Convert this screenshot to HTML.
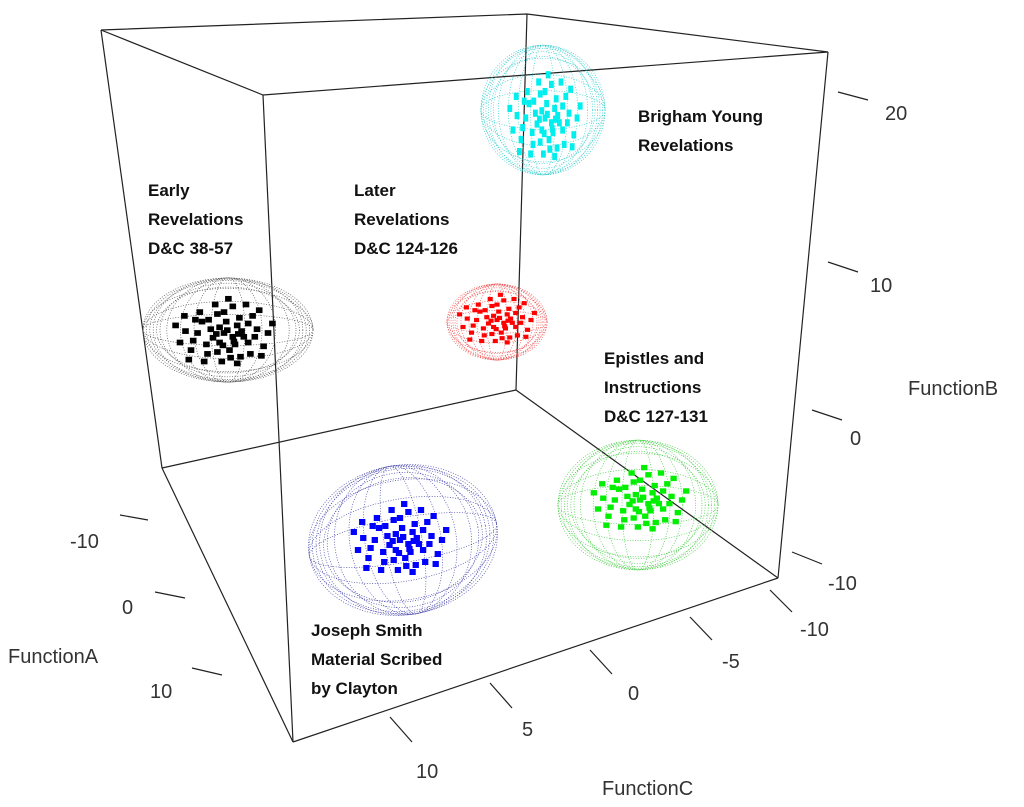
<!DOCTYPE html>
<html><head><meta charset="utf-8"><style>
html,body{margin:0;padding:0;background:#fff;}
svg{display:block;font-family:"Liberation Sans",sans-serif;}
.lb{font-weight:bold;font-size:17px;fill:#111;}
.ax{font-size:20px;fill:#333;}
</style></head><body>
<svg width="1024" height="807" viewBox="0 0 1024 807">
<defs>
<g id="m" fill="none" stroke-width="0.7" stroke-dasharray="1 1.6">
<ellipse cx="0" cy="0" rx="50" ry="40" vector-effect="non-scaling-stroke"/>
<ellipse cx="0" cy="0" rx="48" ry="39" vector-effect="non-scaling-stroke"/>
<ellipse cx="0" cy="0" rx="46" ry="38" vector-effect="non-scaling-stroke"/>
<ellipse cx="0" cy="0" rx="40" ry="36" vector-effect="non-scaling-stroke"/>
<ellipse cx="0" cy="0" rx="36" ry="40" vector-effect="non-scaling-stroke"/>
<ellipse cx="0" cy="0" rx="28" ry="40" vector-effect="non-scaling-stroke"/>
<ellipse cx="0" cy="0" rx="20" ry="40" vector-effect="non-scaling-stroke"/>
<ellipse cx="0" cy="0" rx="10" ry="40" vector-effect="non-scaling-stroke"/>
<ellipse cx="0" cy="0" rx="50" ry="32" vector-effect="non-scaling-stroke"/>
<ellipse cx="0" cy="0" rx="50" ry="22" vector-effect="non-scaling-stroke"/>
<ellipse cx="0" cy="0" rx="50" ry="12" vector-effect="non-scaling-stroke"/>
<ellipse cx="0" cy="0" rx="44" ry="40" vector-effect="non-scaling-stroke"/>
<ellipse cx="0" cy="0" rx="42" ry="33" vector-effect="non-scaling-stroke"/>
</g>
<g id="c">
<rect x="-3" y="-3" width="6" height="6"/><rect x="-13" y="2" width="6" height="6"/><rect x="9" y="-11" width="6" height="6"/><rect x="-23" y="-15" width="6" height="6"/><rect x="19" y="7" width="6" height="6"/>
<rect x="2" y="15" width="6" height="6"/><rect x="-9" y="-23" width="6" height="6"/><rect x="27" y="-7" width="6" height="6"/><rect x="-31" y="5" width="6" height="6"/><rect x="12" y="22" width="6" height="6"/>
<rect x="-18" y="19" width="6" height="6"/><rect x="5" y="-31" width="6" height="6"/><rect x="-38" y="-5" width="6" height="6"/><rect x="33" y="11" width="6" height="6"/><rect x="-7" y="7" width="6" height="6"/>
<rect x="15" y="1" width="6" height="6"/><rect x="-25" y="-25" width="6" height="6"/><rect x="23" y="-21" width="6" height="6"/><rect x="-1" y="-15" width="6" height="6"/><rect x="-15" y="-7" width="6" height="6"/>
<rect x="7" y="9" width="6" height="6"/><rect x="-33" y="15" width="6" height="6"/><rect x="29" y="-27" width="6" height="6"/><rect x="-5" y="27" width="6" height="6"/><rect x="17" y="-33" width="6" height="6"/>
<rect x="-43" y="7" width="6" height="6"/><rect x="37" y="-3" width="6" height="6"/><rect x="-21" y="27" width="6" height="6"/><rect x="1" y="-39" width="6" height="6"/><rect x="11" y="-19" width="6" height="6"/>
<rect x="-11" y="-33" width="6" height="6"/><rect x="21" y="19" width="6" height="6"/><rect x="-29" y="-17" width="6" height="6"/><rect x="3" y="23" width="6" height="6"/><rect x="-19" y="9" width="6" height="6"/>
<rect x="25" y="1" width="6" height="6"/><rect x="-39" y="-21" width="6" height="6"/><rect x="-3" y="-25" width="6" height="6"/><rect x="9" y="29" width="6" height="6"/><rect x="-27" y="-3" width="6" height="6"/>
<rect x="13" y="-5" width="6" height="6"/><rect x="-9" y="17" width="6" height="6"/><rect x="31" y="21" width="6" height="6"/><rect x="-35" y="25" width="6" height="6"/><rect x="41" y="-13" width="6" height="6"/>
<rect x="-47" y="-11" width="6" height="6"/><rect x="5" y="1" width="6" height="6"/><rect x="-17" y="-17" width="6" height="6"/><rect x="19" y="-13" width="6" height="6"/><rect x="-7" y="-9" width="6" height="6"/>
<rect x="0" y="-6" width="6" height="6"/><rect x="-10" y="-2" width="6" height="6"/><rect x="6" y="6" width="6" height="6"/><rect x="-4" y="10" width="6" height="6"/><rect x="10" y="-2" width="6" height="6"/>
</g>
</defs>
<g stroke="#222" stroke-width="1.2" fill="none">
<polyline points="101,30 527,14 828,52 263,95 101,30"/>
<line x1="101" y1="30" x2="162" y2="468"/>
<line x1="263" y1="95" x2="293" y2="742"/>
<line x1="828" y1="52" x2="778" y2="578"/>
<line x1="527" y1="14" x2="516" y2="390"/>
<line x1="516" y1="390" x2="162" y2="468"/>
<line x1="516" y1="390" x2="778" y2="578"/>
<line x1="162" y1="468" x2="293" y2="742"/>
<line x1="293" y1="742" x2="778" y2="578"/>
<line x1="838" y1="92" x2="868" y2="100"/>
<line x1="828" y1="262" x2="858" y2="272"/>
<line x1="812" y1="410" x2="842" y2="420"/>
<line x1="792" y1="552" x2="822" y2="564"/>
<line x1="770" y1="590" x2="792" y2="612"/>
<line x1="690" y1="617" x2="712" y2="640"/>
<line x1="590" y1="650" x2="612" y2="674"/>
<line x1="490" y1="683" x2="512" y2="708"/>
<line x1="390" y1="717" x2="412" y2="742"/>
<line x1="148" y1="520" x2="120" y2="515"/>
<line x1="185" y1="598" x2="155" y2="592"/>
<line x1="222" y1="675" x2="192" y2="668"/>
</g>
<g class="ax">
<text x="885" y="120">20</text><text x="870" y="292">10</text><text x="850" y="445">0</text><text x="828" y="590">-10</text>
<text x="800" y="636">-10</text><text x="722" y="668">-5</text><text x="628" y="700">0</text><text x="522" y="736">5</text><text x="416" y="778">10</text>
<text x="70" y="548">-10</text><text x="122" y="614">0</text><text x="150" y="698">10</text>
<text x="908" y="395">FunctionB</text><text x="8" y="663">FunctionA</text><text x="602" y="795">FunctionC</text>
</g>
<use href="#m" transform="translate(228,330) scale(1.7,1.3)" stroke="#555"/>
<use href="#m" transform="translate(497,322) scale(1.0,0.95)" stroke="#e55"/>
<use href="#m" transform="translate(543,110) scale(1.24,1.62)" stroke="#3cc"/>
<use href="#m" transform="translate(403,540) scale(1.9,1.87) rotate(-10)" stroke="#44a"/>
<use href="#m" transform="translate(638,505) scale(1.6,1.62)" stroke="#4c4"/>
<use href="#c" transform="translate(224,333) scale(1.1,0.95)" fill="#000"/>
<use href="#c" transform="translate(497,320) scale(0.85,0.7)" fill="#f00"/>
<use href="#c" transform="translate(545,118) scale(0.8,1.2)" fill="#0ee"/>
<use href="#c" transform="translate(400,540) scale(1.05,1.0)" fill="#00f"/>
<use href="#c" transform="translate(640,500) scale(1.05,0.9)" fill="#0e0"/>
<g class="lb">
<text x="638" y="122">Brigham  Young</text><text x="638" y="151">Revelations</text>
<text x="148" y="196">Early</text><text x="148" y="225">Revelations</text><text x="148" y="254">D&amp;C 38-57</text>
<text x="354" y="196">Later</text><text x="354" y="225">Revelations</text><text x="354" y="254">D&amp;C 124-126</text>
<text x="604" y="364">Epistles and</text><text x="604" y="393">Instructions</text><text x="604" y="422">D&amp;C 127-131</text>
<text x="311" y="636">Joseph Smith</text><text x="311" y="665">Material Scribed</text><text x="311" y="694">by Clayton</text>
</g>
</svg>
</body></html>
